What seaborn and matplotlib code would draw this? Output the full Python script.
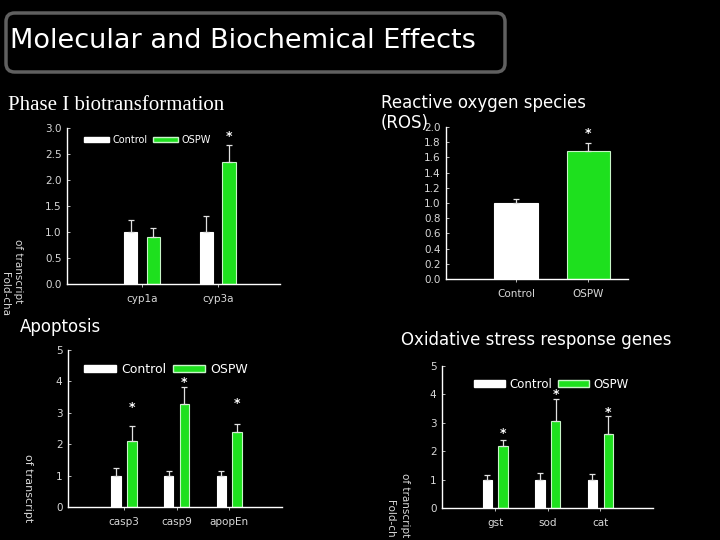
import numpy as np
import pandas as pd
import matplotlib.pyplot as plt
import seaborn as sns
from matplotlib.patches import Patch, FancyBboxPatch

sns.set_theme(style="ticks", rc={
    "figure.facecolor": "black",
    "axes.facecolor": "black",
    "axes.edgecolor": "white",
    "text.color": "white",
    "xtick.color": "#d8d8d8",
    "ytick.color": "#d8d8d8",
})
plt.rcParams['font.family'] = ['DejaVu Sans']

GREEN = '#1ee01e'
GREEN_EDGE = '#c8f5c8'
groups = ["Control", "OSPW"]

# Phase I biotransformation
phase1_genes = ["cyp1a", "cyp3a"]
phase1_control = [1.0, 1.0]
phase1_control_err = [0.23, 0.30]
phase1_ospw = [0.90, 2.35]
phase1_ospw_err = [0.17, 0.33]
phase1_stars = [None, 2.83]

# Reactive oxygen species
ros_groups = ["Control", "OSPW"]
ros_values = [1.0, 1.68]
ros_err = [0.05, 0.11]
ros_stars = [None, 1.92]

# Apoptosis
apop_genes = ["casp3", "casp9", "apopEn"]
apop_control = [1.0, 1.0, 1.0]
apop_control_err = [0.25, 0.15, 0.15]
apop_ospw = [2.10, 3.27, 2.38]
apop_ospw_err = [0.47, 0.56, 0.25]
apop_stars = [3.18, 3.95, 3.30]

# Oxidative stress response genes
ox_genes = ["gst", "sod", "cat"]
ox_control = [1.0, 1.0, 1.0]
ox_control_err = [0.15, 0.22, 0.20]
ox_ospw = [2.17, 3.08, 2.60]
ox_ospw_err = [0.23, 0.75, 0.65]
ox_stars = [2.64, 4.01, 3.38]

fig = plt.figure(figsize=(7.2, 5.4), dpi=100)


def style_axis(ax, xlim, ylim, yticks, fmt):
    ax.set_xlim(*xlim)
    ax.set_ylim(*ylim)
    ax.set_yticks(yticks)
    ax.set_yticklabels([fmt.format(v) for v in yticks])
    ax.set_xlabel("")
    ax.set_ylabel("")
    ax.grid(False)
    for side in ["top", "right"]:
        ax.spines[side].set_visible(False)
    for side in ["left", "bottom"]:
        ax.spines[side].set_color("white")
        ax.spines[side].set_linewidth(1.0)
    ax.tick_params(axis="y", direction="in", length=2, width=0.6, labelsize=7.5, pad=4)
    ax.tick_params(axis="x", direction="out", length=2, width=0.6, labelsize=7.5, pad=5)


def add_err(ax, bar, e):
    x = bar.get_x() + bar.get_width() / 2
    h = bar.get_height()
    ax.errorbar(x, h, yerr=[[0], [e]], fmt="none", ecolor="#e0e0e0",
                elinewidth=0.9, capsize=2.5, capthick=0.9)


def grouped_panel(rect, genes, ctrl, ctrl_err, ospw, ospw_err, stars,
                  xlim, ylim, yticks, fmt, leg_anchor, leg_size):
    ax = fig.add_axes(rect)
    df = pd.DataFrame({
        "gene": genes * 2,
        "group": ["Control"] * len(genes) + ["OSPW"] * len(genes),
        "value": ctrl + ospw,
    })
    sns.barplot(data=df, x="gene", y="value", hue="group", hue_order=groups,
                palette={"Control": "white", "OSPW": GREEN}, width=0.6, gap=0.4,
                saturation=1, errorbar=None, legend=False, ax=ax)
    for cont, errs, edge in zip(ax.containers, [ctrl_err, ospw_err], ["white", GREEN_EDGE]):
        for bar, e in zip(cont, errs):
            bar.set_edgecolor(edge)
            bar.set_linewidth(0.8)
            add_err(ax, bar, e)
    for bar, s in zip(ax.containers[1], stars):
        if s is not None:
            ax.text(bar.get_x() + bar.get_width() / 2, s, "*", ha="center",
                    va="center", fontsize=9, fontweight="bold", color="white")
    handles = [Patch(facecolor="white", edgecolor="white", label="Control"),
               Patch(facecolor=GREEN, edgecolor=GREEN_EDGE, label="OSPW")]
    ax.legend(handles=handles, loc="upper left", bbox_to_anchor=leg_anchor, ncol=2,
              frameon=False, fontsize=leg_size, labelcolor="white",
              handlelength=2.6, handleheight=0.45, handletextpad=0.4,
              columnspacing=0.5, borderaxespad=0)
    style_axis(ax, xlim, ylim, yticks, fmt)
    return ax


# title box
fig.add_artist(FancyBboxPatch((6 / 720, 1 - 72 / 540), 499 / 720, 59 / 540,
                              boxstyle="round,pad=0,rounding_size=0.012",
                              mutation_aspect=720 / 540,
                              transform=fig.transFigure, facecolor="black",
                              edgecolor="#606060", linewidth=2.5))
fig.text(10 / 720, 1 - 41 / 540, "Molecular and Biochemical Effects",
         fontsize=19.5, ha="left", va="center", color="white")

# Phase I panel
grouped_panel([67 / 720, 1 - 284 / 540, 213 / 720, 156 / 540],
              phase1_genes, phase1_control, phase1_control_err,
              phase1_ospw, phase1_ospw_err, phase1_stars,
              (-0.99, 1.82), (0, 3.0), np.arange(0, 3.01, 0.5), "{:.1f}",
              (0.06, 0.98), 7)
fig.text(8 / 720, 1 - 105 / 540, "Phase I biotransformation", fontsize=15,
         family=["Liberation Serif", "DejaVu Serif"], ha="left", va="center")
fig.text(18 / 720, 1 - 271 / 540, "of transcript", rotation=270, fontsize=7.5,
         ha="center", va="center", color="#d8d8d8")
fig.text(5 / 720, 1 - 272 / 540, "Fold-cha", rotation=270, fontsize=7.5,
         ha="center", va="top", color="#d8d8d8")

# ROS panel
ax2 = fig.add_axes([446 / 720, 1 - 279 / 540, 182 / 720, 152 / 540])
ros_df = pd.DataFrame({"group": ros_groups, "value": ros_values})
sns.barplot(data=ros_df, x="group", y="value", hue="group",
            palette=["white", GREEN], width=0.6, saturation=1,
            errorbar=None, legend=False, ax=ax2)
for bar, e, edge in zip(ax2.patches, ros_err, ["white", GREEN_EDGE]):
    bar.set_edgecolor(edge)
    bar.set_linewidth(0.8)
    add_err(ax2, bar, e)
for bar, s in zip(ax2.patches, ros_stars):
    if s is not None:
        ax2.text(bar.get_x() + bar.get_width() / 2, s, "*", ha="center",
                 va="center", fontsize=9, fontweight="bold", color="white")
style_axis(ax2, (-0.97, 1.55), (0, 2.0), np.arange(0, 2.01, 0.2), "{:.1f}")
fig.text(381 / 720, 1 - 94 / 540, "Reactive oxygen species\n(ROS)", fontsize=12,
         ha="left", va="top", linespacing=1.15)

# Apoptosis panel
grouped_panel([68 / 720, 1 - 507 / 540, 214 / 720, 157 / 540],
              apop_genes, apop_control, apop_control_err,
              apop_ospw, apop_ospw_err, apop_stars,
              (-1.06, 3.0), (0, 5), np.arange(0, 6), "{:d}",
              (0.05, 0.95), 9)
fig.text(20 / 720, 1 - 327 / 540, "Apoptosis", fontsize=12, ha="left", va="center")
fig.text(28 / 720, 1 - 488 / 540, "of transcript", rotation=270, fontsize=8,
         ha="center", va="center", color="#d8d8d8")

# Oxidative stress panel
grouped_panel([442 / 720, 1 - 508 / 540, 211 / 720, 142 / 540],
              ox_genes, ox_control, ox_control_err,
              ox_ospw, ox_ospw_err, ox_stars,
              (-1.01, 3.0), (0, 5), np.arange(0, 6), "{:d}",
              (0.13, 0.95), 8.5)
fig.text(401 / 720, 1 - 340 / 540, "Oxidative stress response genes", fontsize=12,
         ha="left", va="center")
fig.text(405 / 720, 1 - 505 / 540, "of transcript", rotation=270, fontsize=7.5,
         ha="center", va="center", color="#d8d8d8")
fig.text(390 / 720, 1 - 500 / 540, "Fold-ch", rotation=270, fontsize=7.5,
         ha="center", va="top", color="#d8d8d8")

fig.savefig("out.png", dpi=100, facecolor="black")
